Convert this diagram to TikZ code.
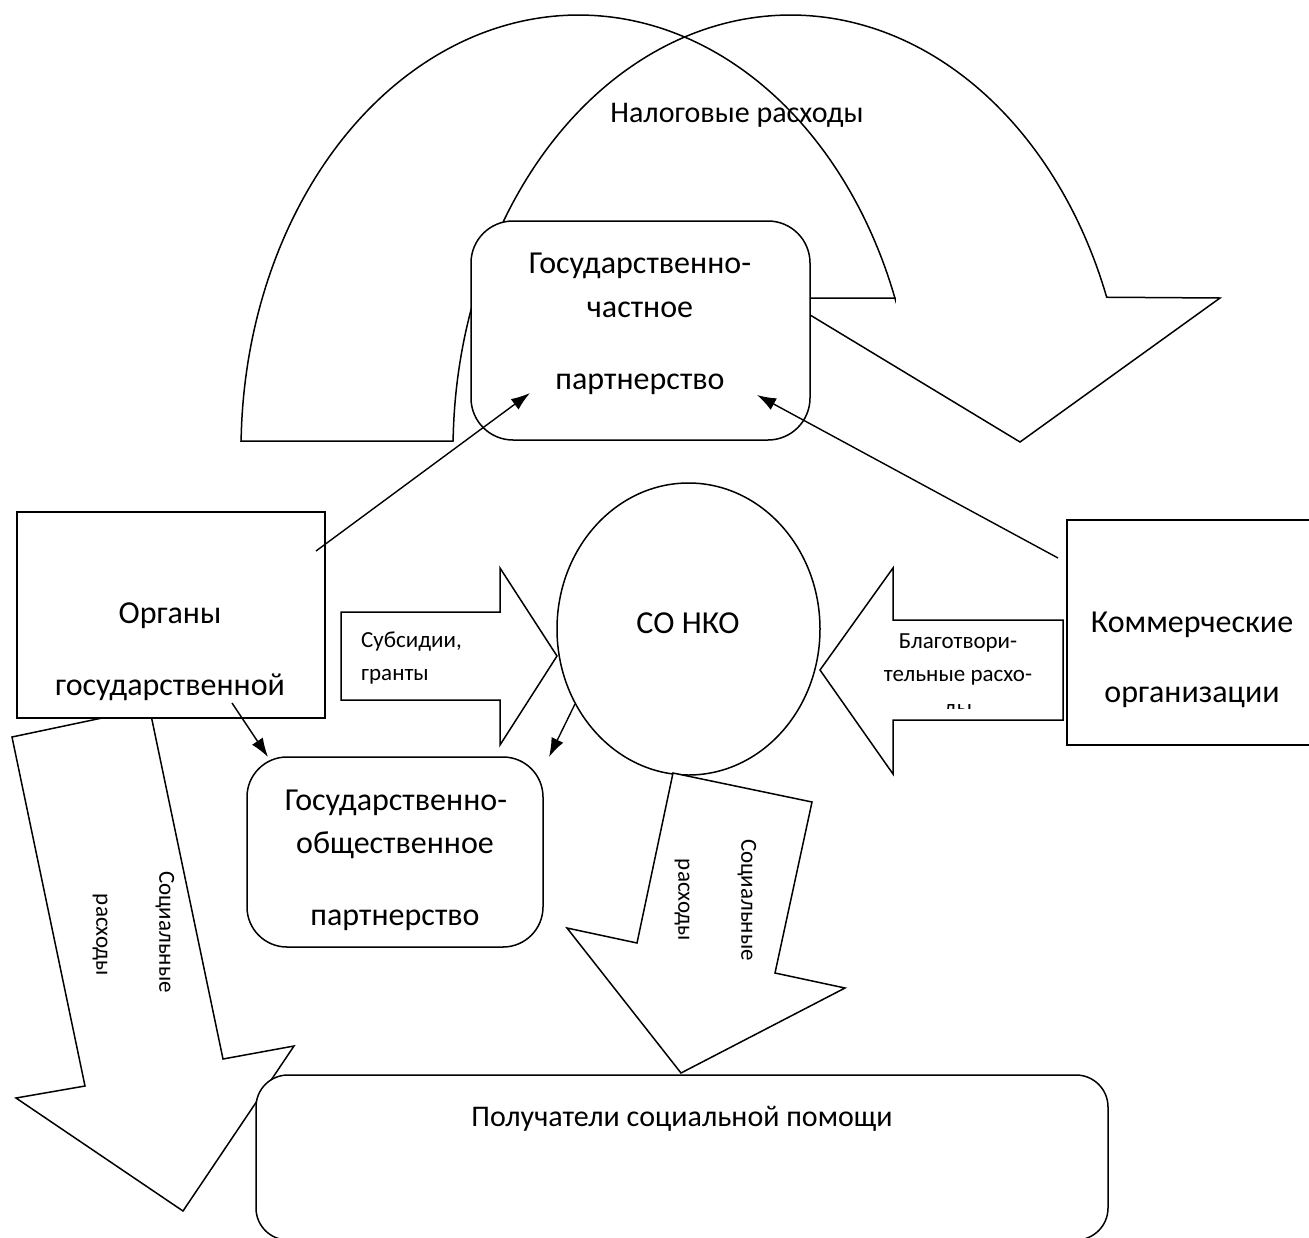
\documentclass[tikz,border=0pt]{standalone}
\usepackage{fontspec}
\setmainfont{Carlito}
\usetikzlibrary{arrows.meta,shapes.geometric}
\begin{document}
\begin{tikzpicture}[x=1pt,y=-1pt,
  line join=miter,
  blk/.style={draw=black, fill=white, line width=1.5pt},
  rbox/.style={draw=black, fill=white, line width=1.5pt, rounded corners=#1, inner sep=0pt},
  big/.style={font=\fontsize{32}{38}\selectfont, anchor=base, inner sep=0pt},
  mid/.style={font=\fontsize{30}{36}\selectfont, anchor=base, inner sep=0pt},
  small/.style={font=\fontsize{23}{27}\selectfont, anchor=base, inner sep=0pt},
  vsmall/.style={font=\fontsize{23}{27}\selectfont, anchor=center, inner sep=0pt, rotate=-90},
  conn/.style={draw=black, line width=1.4pt, -{Latex[length=19pt,width=13pt]}}
]
\useasboundingbox (0,0) rectangle (1309,1237);
\clip (0,0) rectangle (1309,1237);

% curved "tax expenditure" arrow
\draw[blk] (241,441) -- (453,441)
  -- plot[domain=0:1, samples=140] ({790.6+337.6*cos(178.8-158.4*\x)},{450-435*sin(178.8-158.4*\x)})
  -- (1220,298) -- (1020,442) -- (782,298) -- (895,298)
  -- plot[domain=0:1, samples=140] ({578.6+337.6*cos(20.4+158.4*\x)},{450-435*sin(20.4+158.4*\x)})
  -- cycle;
\node[mid] (tax) at (737,122) {Налоговые расходы};

% public-private partnership
\node[rbox=42pt, minimum width=339pt, minimum height=219pt] (gchp) at (640.5,330.5) {};
\node[big] (gchp1) at (640,273) {Государственно-};
\node[big] (gchp2) at (640,317) {частное};
\node[big] (gchp3) at (640,389) {партнерство};

% left social expenditure arrow
\draw[blk] (12,737) -- (149.5,708) -- (223,1059) -- (294,1046) -- (183,1211)
  -- (16,1098) -- (85,1086) -- cycle;
\node[vsmall] (ls1) at (165,932) {Социальные};
\node[vsmall] (ls2) at (100,935) {расходы};

% recipients
\node[rbox=32pt, minimum width=852pt, minimum height=165pt] (recv) at (682,1157.5) {};
\node[mid] (recvt) at (682,1126) {Получатели социальной помощи};

% government bodies
\node[draw=black, fill=white, line width=1.5pt, minimum width=308pt, minimum height=206pt, inner sep=0pt] (gov) at (171,615) {};
\node[big] (gov1) at (170,623) {Органы};
\node[big] (gov2) at (170,695) {государственной};

% subsidies arrow
\draw[blk] (341,612) -- (500,612) -- (500,568) -- (557,656) -- (500,745)
  -- (500,700) -- (341,700) -- cycle;
\node[small, anchor=base west] (sub1) at (361,647) {Субсидии,};
\node[small, anchor=base west] (sub2) at (361,680) {гранты};

% SO NKO
\node[ellipse, draw=black, fill=white, line width=1.5pt, minimum width=263pt, minimum height=292pt, inner sep=0pt] (nko) at (688.5,629) {};
\node[big] (nkot) at (688,633) {СО НКО};

% charity arrow
\draw[blk] (1063,620) -- (893,620) -- (893,568) -- (820,670) -- (893,774)
  -- (893,720) -- (1063,720) -- cycle;
\node[small] (ch1) at (958,648) {Благотвори-};
\node[small] (ch2) at (958,681) {тельные расхо-};
\begin{scope}
\clip (895,690) rectangle (1060,708);
\node[small] (ch3) at (958,715) {ды};
\end{scope}

% commercial organisations
\node[draw=black, fill=white, line width=1.5pt, minimum width=253pt, minimum height=225pt, inner sep=0pt] (com) at (1193.5,632.5) {};
\node[big] (com1) at (1192,632) {Коммерческие};
\node[big] (com2) at (1192,702) {организации};

% public-social partnership
\node[rbox=40pt, minimum width=296pt, minimum height=190pt] (gop) at (395,852) {};
\node[big] (gop1) at (396,810) {Государственно-};
\node[big] (gop2) at (395,853) {общественное};
\node[big] (gop3) at (395,925) {партнерство};

% middle social expenditure arrow
\draw[blk] (673,773) -- (812,802) -- (775,973) -- (845,988) -- (681,1073)
  -- (567,928) -- (637,943) -- cycle;
\node[vsmall] (ms1) at (747,900) {Социальные};
\node[vsmall] (ms2) at (682,900) {расходы};

% connectors
\coordinate (s1) at (316,551); \coordinate (e1) at (530,393);
\coordinate (s2) at (1058,558); \coordinate (e2) at (757,395);
\coordinate (s3) at (232,703); \coordinate (e3) at (268,757);
\coordinate (s4) at (575,704); \coordinate (e4) at (549,757);
\draw[conn] (s1) -- (e1);
\draw[conn] (s2) -- (e2);
\draw[conn] (s3) -- (e3);
\draw[conn] (s4) -- (e4);
\end{tikzpicture}
\end{document}
